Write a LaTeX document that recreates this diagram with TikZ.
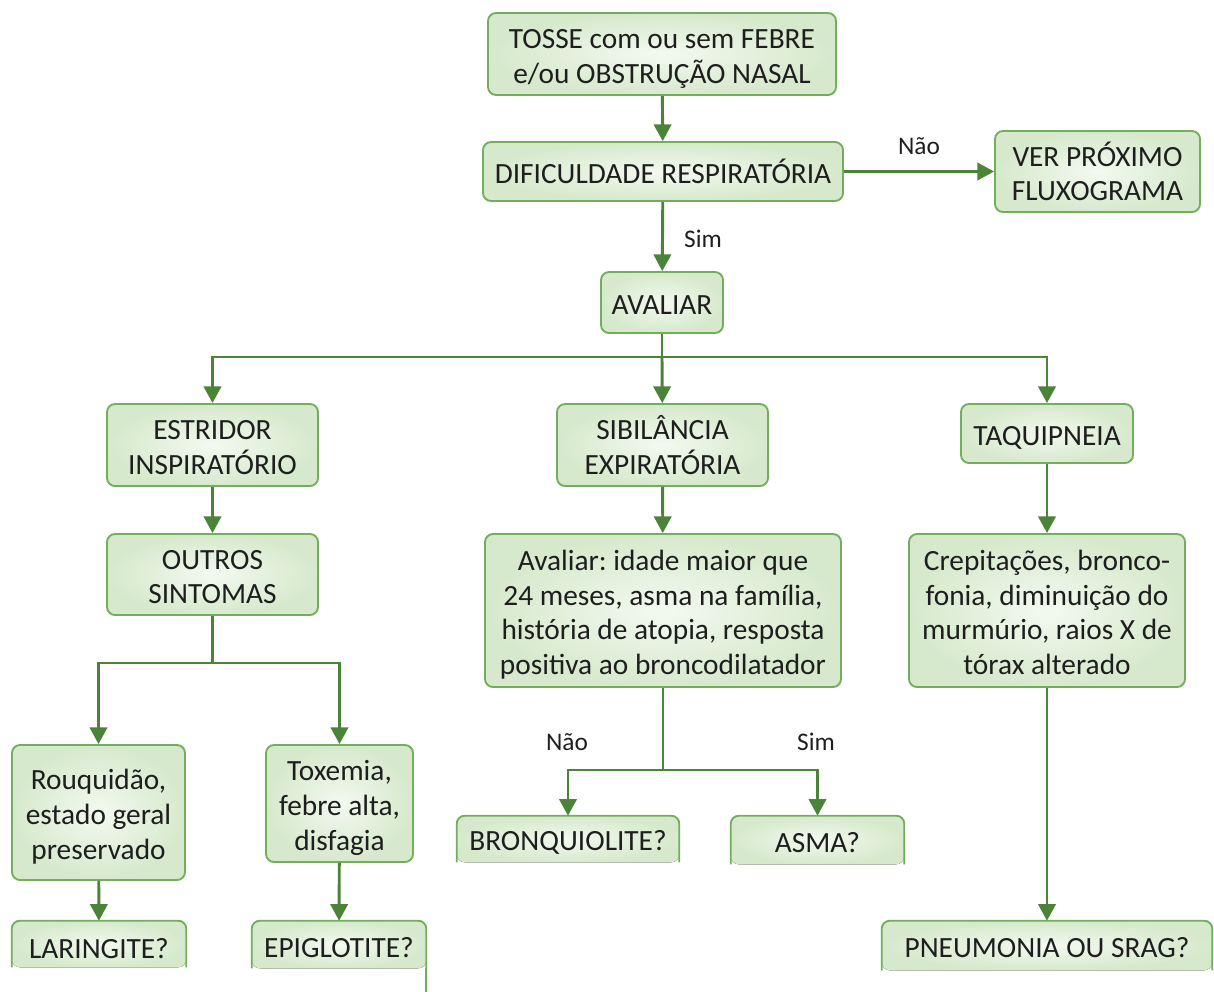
\documentclass[tikz,border=0pt]{standalone}
\usepackage{fontspec}
\setmainfont{Carlito}
\frenchspacing
\usetikzlibrary{arrows.meta}
\definecolor{boxline}{HTML}{72AE5C}
\definecolor{boxfill}{HTML}{D6E9CC}
\definecolor{boxin}{HTML}{F3F9F0}
\definecolor{arrowgreen}{HTML}{4B8438}
\definecolor{txt}{HTML}{1E1E1E}
\newcommand{\fs}{\rule{0pt}{24pt}}
\newcommand{\ls}{\rule[-6pt]{0pt}{6pt}}
\tikzset{
  box/.style={draw=boxline, line width=1.4pt, rounded corners=6pt, inner color=boxin, outer color=boxfill,
    align=center, text=txt, font=\fontsize{22}{26}\selectfont, inner sep=0pt},
  openbox/.style={inner sep=0pt, text=txt, font=\fontsize{22}{26}\selectfont},
  openline/.style={draw=boxline, line width=1.4pt, rounded corners=6pt},
  openfill/.style={rounded corners=6pt, inner color=boxin, outer color=boxfill},
  conn/.style={draw=arrowgreen, line width=2.2pt},
  arr/.style={conn, -{Triangle[width=13pt,length=12.5pt]}},
  lbl/.style={text=txt, font=\fontsize{19}{22}\selectfont, inner sep=0pt}
}
\begin{document}
\begin{tikzpicture}[x=0.75pt,y=-0.75pt]
\useasboundingbox (0,0) rectangle (1214,992);
% closed boxes
\node[box, minimum width=261pt, minimum height=61.5pt] (tosse) at (662,54) {\fs TOSSE com ou sem FEBRE\\e/ou OBSTRUÇÃO NASAL\ls};
\node[box, minimum width=270pt, minimum height=44.25pt] (dif) at (663,171.5) {\fs DIFICULDADE RESPIRATÓRIA\ls};
\node[box, minimum width=153.75pt, minimum height=60.75pt] (ver) at (1097.5,171.5) {\fs VER PRÓXIMO\\FLUXOGRAMA\ls};
\node[box, minimum width=91.5pt, minimum height=45.75pt] (avaliar) at (662,302.5) {\fs AVALIAR\ls};
\node[box, minimum width=158.25pt, minimum height=61.5pt] (estridor) at (212.5,445) {\fs ESTRIDOR\\INSPIRATÓRIO\ls};
\node[box, minimum width=158.25pt, minimum height=61.5pt] (sibil) at (662.5,445) {\fs SIBILÂNCIA\\EXPIRATÓRIA\ls};
\node[box, minimum width=129pt, minimum height=44.25pt] (taqui) at (1047,433.5) {\fs TAQUIPNEIA\ls};
\node[box, minimum width=158.25pt, minimum height=60.75pt] (outros) at (212.5,574.5) {\fs OUTROS\\SINTOMAS\ls};
\node[box, minimum width=267pt, minimum height=114.75pt] (aval2) at (663,610.5) {\fs Avaliar: idade maior que\\24 meses, asma na família,\\história de atopia, resposta\\positiva ao broncodilatador\ls};
\node[box, minimum width=207pt, minimum height=114.75pt] (crep) at (1047,610.5) {\fs Crepitações, bronco-\\fonia, diminuição do\\murmúrio, raios X de\\tórax alterado\ls};
\node[box, minimum width=129.75pt, minimum height=101.25pt] (rouq) at (98.5,812.5) {\fs Rouquidão,\\estado geral\\preservado\ls};
\node[box, minimum width=110.25pt, minimum height=87.75pt] (tox) at (339.5,803.5) {\fs Toxemia,\\febre alta,\\disfagia\ls};
% open-bottom boxes
\node[openbox, minimum width=166.5pt, minimum height=34.5pt] (bronq) at (568,839) {};
\node[openbox, minimum width=129.75pt, minimum height=36pt] (asma) at (817.5,840) {};
\node[openbox, minimum width=130.5pt, minimum height=34.5pt] (laring) at (99,944) {};
\node[openbox, minimum width=130.5pt, minimum height=35.25pt] (epig) at (339,944.5) {};
\node[openbox, minimum width=247.5pt, minimum height=36.75pt] (pneu) at (1047,945.5) {};
\foreach \n in {bronq,asma,laring,epig,pneu}{
  \fill[openfill] (\n.south west) -- (\n.north west) -- (\n.north east) -- (\n.south east) -- cycle;
  \draw[openline] (\n.south west) -- (\n.north west) -- (\n.north east) -- (\n.south east);
}
\draw[openline] (epig.south east) -- ++(0,24);
\node[openbox] (tbronq) at (568,842) {BRONQUIOLITE?};
\node[openbox] (tasma) at (817.5,843) {ASMA?};
\node[openbox] (tlaring) at (99,949) {LARINGITE?};
\node[openbox] (tepig) at (339,948) {EPIGLOTITE?};
\node[openbox] (tpneu) at (1047,948) {PNEUMONIA OU SRAG?};
% junctions
\coordinate (j1) at (662,357);
\coordinate (j2) at (212.5,663);
\coordinate (j3) at (663,770);
% connectors
\draw[arr] (tosse) -- (dif);
\draw[arr] (dif) -- (ver) node[lbl] (nao1) at (919,146) {Não};
\draw[arr] (dif) -- (avaliar) node[lbl] (sim1) at (703,239) {Sim};
\draw[conn] (avaliar.south) -- (j1);
\draw[arr] (j1) -| (estridor);
\draw[arr] (j1) -- (sibil);
\draw[arr] (j1) -| (taqui);
\draw[arr] (estridor) -- (outros);
\draw[conn] (outros.south) -- (j2);
\draw[arr] (j2) -| (rouq);
\draw[arr] (j2) -| (tox);
\draw[arr] (sibil) -- (aval2);
\draw[conn] (aval2.south) -- (j3);
\draw[arr] (j3) -| (bronq);
\draw[arr] (j3) -| (asma);
\draw[arr] (taqui) -- (crep);
\draw[arr] (crep) -- (pneu);
\draw[arr] (rouq) -- (laring);
\draw[arr] (tox) -- (epig);
\node[lbl] (nao2) at (567,742) {Não};
\node[lbl] (sim2) at (816,742) {Sim};
\end{tikzpicture}
\end{document}
